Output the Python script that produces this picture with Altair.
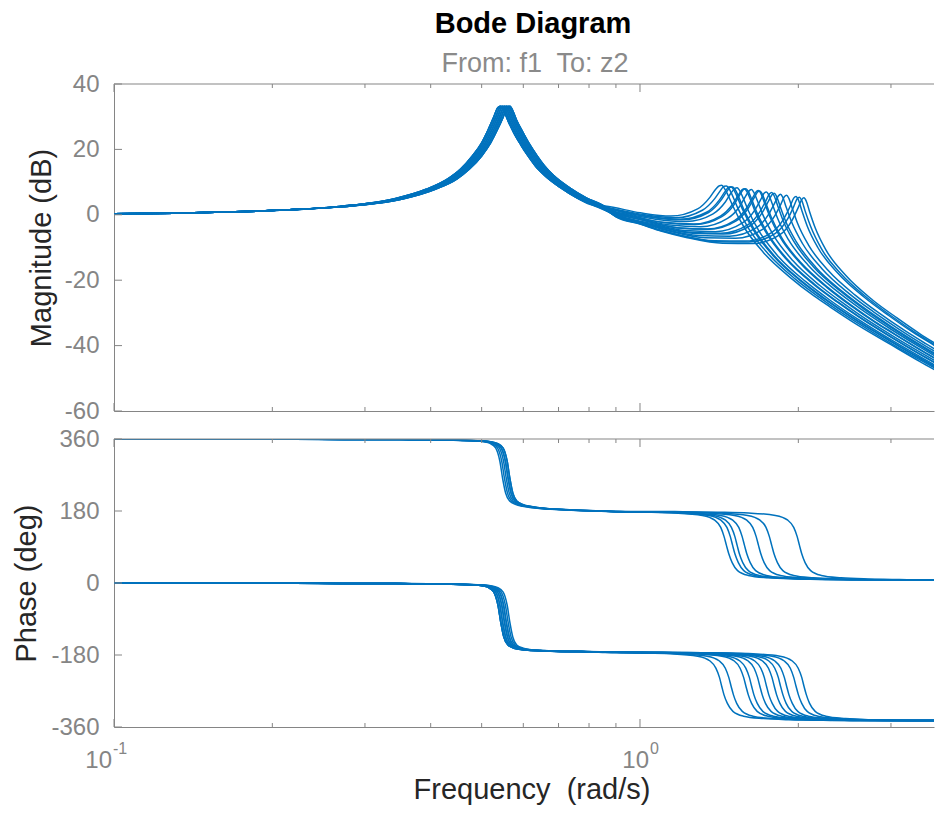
import altair as alt
import pandas as pd

BLUE = "#0072BD"
AXC = "#858585"
LBL = "#858585"
TTL = "#262626"
FONT = "Liberation Sans"

W = 820
H1 = 327
H2 = 288

TITLE = "Bode Diagram"
SUBTITLE = "From: f1\u00a0 To: z2"
XTITLE = "Frequency\u00a0 (rad/s)"
YTITLE_MAG = "Magnitude (dB)"
YTITLE_PH = "Phase (deg)"

x_major = [0.1, 1.0]
x_minor = [0.2, 0.3, 0.4, 0.5, 0.6, 0.7, 0.8, 0.9, 2.0, 3.0]
mag_ticks = [-60, -40, -20, 0, 20, 40]
ph_ticks = [-360, -180, 0, 180, 360]
x_label_pos = [0.1, 1.0]
x_label_base = ["10", "10"]
x_label_exp = ["-1", "0"]

# ---- shared low-frequency part (first mode), six slightly different first-mode frequencies
low_f_1 = [0.10, 0.13, 0.17, 0.22, 0.265, 0.304, 0.343, 0.392, 0.431, 0.456, 0.480, 0.500, 0.5145, 0.527, 0.537, 0.544, 0.551, 0.561, 0.576, 0.593, 0.6125, 0.632, 0.657, 0.706, 0.760, 0.813]
low_f_2 = [0.10, 0.13, 0.17, 0.22, 0.267, 0.306, 0.3458, 0.3952, 0.4347, 0.4594, 0.4841, 0.5039, 0.5187, 0.5315, 0.5414, 0.5483, 0.5553, 0.5651, 0.5809, 0.5977, 0.6175, 0.6373, 0.662, 0.7114, 0.7667, 0.820]
low_f_3 = [0.10, 0.13, 0.17, 0.22, 0.269, 0.3088, 0.3486, 0.3984, 0.4382, 0.4631, 0.488, 0.508, 0.5229, 0.5358, 0.5458, 0.5528, 0.5598, 0.5697, 0.5856, 0.6026, 0.6225, 0.6424, 0.6673, 0.7171, 0.7729, 0.8267]
low_f_4 = [0.10, 0.13, 0.17, 0.22, 0.271, 0.3112, 0.3514, 0.4016, 0.4418, 0.4669, 0.492, 0.512, 0.5271, 0.5402, 0.5502, 0.5572, 0.5642, 0.5743, 0.5904, 0.6074, 0.6275, 0.6476, 0.6727, 0.7229, 0.7791, 0.8333]
low_f_5 = [0.10, 0.13, 0.17, 0.22, 0.273, 0.3137, 0.3542, 0.4048, 0.4453, 0.4706, 0.4959, 0.5161, 0.5313, 0.5445, 0.5546, 0.5617, 0.5687, 0.5789, 0.5951, 0.6123, 0.6325, 0.6527, 0.678, 0.7286, 0.7853, 0.840]
low_f_6 = [0.10, 0.13, 0.17, 0.22, 0.275, 0.316, 0.357, 0.408, 0.449, 0.474, 0.500, 0.520, 0.5355, 0.549, 0.559, 0.566, 0.573, 0.583, 0.600, 0.617, 0.6375, 0.658, 0.683, 0.734, 0.792, 0.847]
low_mag = [0.3, 0.5, 0.9, 1.6, 2.5, 3.5, 5.0, 7.8, 11.0, 14.0, 18.0, 22.0, 26.0, 29.8, 32.8, 33.2, 31.8, 28.8, 25.0, 21.5, 18.0, 15.0, 12.2, 8.3, 5.1, 3.0]
low_ph_lower = [-0.3, -0.4, -0.6, -0.8, -1.0, -1.2, -1.5, -2.0, -2.8, -3.5, -4.8, -7.0, -11.0, -22.0, -55.0, -100.0, -135.0, -155.0, -163.0, -166.0, -168.0, -169.0, -170.0, -171.0, -171.5, -172.0]
low_ph_upper = [359.7, 359.6, 359.4, 359.2, 359.0, 358.8, 358.5, 358.0, 357.2, 356.5, 355.2, 353.0, 349.0, 338.0, 305.0, 260.0, 225.0, 205.0, 196.0, 192.0, 189.0, 187.0, 185.0, 183.0, 181.0, 180.0]

# ---- per-curve part (second mode)
c01_f = [0.858, 1.001, 1.144, 1.287, 1.359, 1.394, 1.416, 1.43, 1.444, 1.466, 1.502, 1.573, 1.716, 1.931, 2.145, 2.3, 2.6, 3.0, 3.4, 3.84]
c01_m = [2.7, 0.6, -0.4, 1.8, 5.4, 7.9, 8.9, 9.0, 8.3, 6.4, 2.6, -3.5, -11.5, -19.2, -24.9, -28.2, -33.8, -39.7, -44.8, -49.5]
c01_p = [-174, -175, -177, -183, -195, -213, -236, -258, -279, -301, -321, -333, -339, -342, -343, -343.5, -344, -344, -344, -344]

c02_f = [0.876, 1.022, 1.168, 1.314, 1.387, 1.424, 1.445, 1.46, 1.475, 1.497, 1.533, 1.606, 1.752, 1.971, 2.19, 2.3, 2.6, 3.0, 3.4, 3.84]
c02_m = [2.1, 0.0, -0.9, 1.4, 4.95, 7.55, 8.75, 8.8, 8.1, 6.1, 2.2, -4.0, -11.9, -19.6, -25.2, -27.6, -33.2, -39.3, -44.3, -49.0]
c02_p = [178, 177, 175, 169, 157, 139, 116, 94, 73, 51, 31, 19, 13, 10, 9, 8.5, 8, 8, 8, 8]

c03_f = [0.894, 1.043, 1.192, 1.341, 1.416, 1.453, 1.475, 1.49, 1.505, 1.527, 1.565, 1.639, 1.788, 2.012, 2.235, 2.6, 3.0, 3.4, 3.84]
c03_m = [1.6, -0.55, -1.35, 0.85, 4.55, 7.25, 8.5, 8.6, 7.85, 5.8, 1.8, -4.35, -12.35, -20.0, -25.6, -32.7, -38.8, -43.9, -48.6]
c03_p = [-174, -175, -177, -183, -195, -213, -236, -258, -279, -301, -321, -333, -339, -342, -343, -344, -344, -344, -344]

c04_f = [0.9, 1.05, 1.2, 1.35, 1.425, 1.463, 1.485, 1.5, 1.515, 1.538, 1.575, 1.65, 1.8, 2.025, 2.25, 2.6, 3.0, 3.4, 3.84]
c04_m = [1.4, -0.75, -1.55, 0.7, 4.4, 7.15, 8.45, 8.5, 7.8, 5.75, 1.65, -4.5, -12.5, -20.15, -25.7, -32.5, -38.6, -43.7, -48.5]
c04_p = [178, 177, 175, 169, 157, 139, 116, 94, 73, 51, 31, 19, 13, 10, 9, 8, 8, 8, 8]

c05_f = [0.918, 1.071, 1.224, 1.377, 1.454, 1.492, 1.515, 1.53, 1.545, 1.568, 1.607, 1.683, 1.836, 2.066, 2.295, 2.6, 3.0, 3.4, 3.84]
c05_m = [0.9, -1.35, -2.05, 0.3, 4.0, 6.8, 8.1, 8.3, 7.55, 5.4, 1.25, -4.9, -12.9, -20.45, -26.05, -32.0, -38.2, -43.3, -48.1]
c05_p = [178, 177, 175, 169, 157, 139, 116, 94, 73, 51, 31, 19, 13, 10, 9, 8, 8, 8, 8]

c06_f = [0.9, 0.948, 1.106, 1.264, 1.422, 1.501, 1.541, 1.564, 1.58, 1.596, 1.62, 1.659, 1.738, 1.896, 2.133, 2.37, 2.6, 3.0, 3.4, 3.84]
c06_m = [0.9, 0.05, -2.3, -2.85, -0.4, 3.3, 6.25, 7.7, 8.0, 7.15, 4.85, 0.6, -5.55, -13.55, -21.15, -26.65, -31.15, -37.4, -42.6, -47.4]
c06_p = [179, 178, 177, 175, 169, 157, 139, 116, 94, 73, 51, 31, 19, 13, 10, 9, 8, 8, 8, 8]

c07_f = [0.9, 0.954, 1.113, 1.272, 1.431, 1.511, 1.55, 1.574, 1.59, 1.606, 1.63, 1.67, 1.749, 1.908, 2.147, 2.385, 2.6, 3.0, 3.4, 3.84]
c07_m = [0.85, -0.1, -2.45, -3.0, -0.55, 3.2, 6.25, 7.75, 8.0, 7.2, 4.8, 0.5, -5.7, -13.7, -21.25, -26.8, -31.0, -37.3, -42.5, -47.3]
c07_p = [-173, -174, -175, -177, -183, -195, -213, -236, -258, -279, -301, -321, -333, -339, -342, -343, -344, -344, -344, -344]

c08_f = [0.9, 0.978, 1.141, 1.304, 1.467, 1.549, 1.589, 1.614, 1.63, 1.646, 1.671, 1.712, 1.793, 1.956, 2.201, 2.445, 2.6, 3.0, 3.4, 3.84]
c08_m = [0.65, -0.75, -3.15, -3.65, -1.1, 2.7, 5.8, 7.4, 7.7, 6.85, 4.4, 0.05, -6.2, -14.15, -21.7, -27.25, -30.3, -36.7, -41.9, -46.8]
c08_p = [-173, -174, -175, -177, -183, -195, -213, -236, -258, -279, -301, -321, -333, -339, -342, -343, -344, -344, -344, -344]

c09_f = [0.9, 1.008, 1.176, 1.344, 1.512, 1.596, 1.638, 1.663, 1.68, 1.697, 1.722, 1.764, 1.848, 2.016, 2.268, 2.52, 2.8, 3.0, 3.4, 3.84]
c09_m = [0.45, -1.5, -3.95, -4.35, -1.8, 2.15, 5.25, 7.05, 7.4, 6.55, 3.95, -0.45, -6.9, -14.75, -22.25, -27.85, -32.9, -35.9, -41.2, -46.1]
c09_p = [179, 178, 177, 175, 169, 157, 139, 116, 94, 73, 51, 31, 19, 13, 10, 9, 8, 8, 8, 8]

c10_f = [0.9, 1.014, 1.183, 1.352, 1.521, 1.606, 1.648, 1.673, 1.69, 1.707, 1.732, 1.775, 1.859, 2.028, 2.282, 2.535, 2.8, 3.0, 3.4, 3.84]
c10_m = [0.4, -1.7, -4.05, -4.45, -1.95, 2.0, 5.15, 6.95, 7.3, 6.4, 3.8, -0.6, -7.0, -14.85, -22.35, -27.95, -32.75, -35.75, -41.1, -46.0]
c10_p = [-173, -174, -175, -177, -183, -195, -213, -236, -258, -279, -301, -321, -333, -339, -342, -343, -344, -344, -344, -344]

c11_f = [0.9, 1.044, 1.218, 1.392, 1.566, 1.653, 1.697, 1.723, 1.74, 1.757, 1.784, 1.827, 1.914, 2.088, 2.349, 2.61, 3.0, 3.4, 3.84]
c11_m = [0.2, -2.55, -4.8, -5.15, -2.5, 1.45, 4.7, 6.65, 7.0, 6.1, 3.35, -1.15, -7.55, -15.4, -22.9, -28.45, -35.0, -40.4, -45.4]
c11_p = [-173, -174, -175, -177, -183, -195, -213, -236, -258, -279, -301, -321, -333, -339, -342, -343, -344, -344, -344]

c12_f = [0.9, 1.068, 1.246, 1.424, 1.602, 1.691, 1.736, 1.762, 1.78, 1.798, 1.825, 1.869, 1.958, 2.136, 2.403, 2.67, 3.0, 3.4, 3.84]
c12_m = [0.05, -3.2, -5.35, -5.65, -3.1, 1.0, 4.35, 6.35, 6.85, 5.9, 3.0, -1.6, -8.0, -15.9, -23.3, -28.9, -34.4, -39.9, -44.9]
c12_p = [179, 178, 177, 175, 169, 157, 139, 116, 94, 73, 51, 31, 19, 13, 10, 9, 8, 8, 8]

c13_f = [0.9, 1.08, 1.26, 1.44, 1.62, 1.71, 1.755, 1.782, 1.8, 1.818, 1.845, 1.89, 1.98, 2.16, 2.43, 2.7, 3.0, 3.4, 3.84]
c13_m = [0.0, -3.55, -5.65, -5.9, -3.35, 0.8, 4.15, 6.1, 6.6, 5.65, 2.75, -1.8, -8.1, -16.1, -23.55, -29.1, -34.1, -39.6, -44.6]
c13_p = [-173, -174, -175, -177, -183, -195, -213, -236, -258, -279, -301, -321, -333, -339, -342, -343, -344, -344, -344]

c14_f = [0.9, 1.0, 1.11, 1.295, 1.48, 1.665, 1.758, 1.804, 1.832, 1.85, 1.869, 1.896, 1.943, 2.035, 2.22, 2.498, 2.775, 3.1, 3.45, 3.84]
c14_m = [-0.15, -2.2, -4.35, -6.35, -6.55, -3.95, 0.25, 3.65, 5.75, 6.3, 5.3, 2.35, -2.3, -8.7, -16.55, -24.1, -29.6, -34.85, -39.6, -44.0]
c14_p = [-173, -173, -174, -175, -177, -183, -195, -213, -236, -258, -279, -301, -321, -333, -339, -342, -343, -344, -344, -344]

c15_f = [0.9, 1.0, 1.14, 1.33, 1.52, 1.71, 1.805, 1.853, 1.881, 1.9, 1.919, 1.948, 1.995, 2.09, 2.28, 2.565, 2.85, 3.2, 3.5, 3.84]
c15_m = [-0.3, -2.4, -5.05, -7.0, -7.15, -4.45, -0.25, 3.25, 5.5, 6.0, 5.0, 1.95, -2.75, -9.2, -17.05, -24.55, -30.1, -35.6, -39.5, -43.4]
c15_p = [-173, -173, -174, -175, -177, -183, -195, -213, -236, -258, -279, -301, -321, -333, -339, -342, -343, -344, -344, -344]

c16_f = [0.9, 1.0, 1.1, 1.188, 1.386, 1.584, 1.782, 1.881, 1.931, 1.96, 1.98, 2.0, 2.03, 2.079, 2.178, 2.376, 2.673, 2.97, 3.3, 3.6, 3.84]
c16_m = [-0.5, -2.65, -4.8, -6.15, -7.95, -8.05, -5.35, -0.95, 2.7, 5.1, 5.6, 4.6, 1.4, -3.4, -10.0, -17.8, -25.3, -30.8, -35.9, -39.65, -42.4]
c16_p = [-173, -173, -173, -174, -175, -177, -183, -195, -213, -236, -258, -279, -301, -321, -333, -339, -342, -343, -344, -344, -344]

c17_f = [0.9, 1.0, 1.1, 1.206, 1.407, 1.608, 1.809, 1.91, 1.96, 1.99, 2.01, 2.03, 2.06, 2.111, 2.211, 2.412, 2.714, 3.015, 3.3, 3.6, 3.84]
c17_m = [-0.55, -2.75, -4.9, -6.5, -8.25, -8.35, -5.65, -1.2, 2.5, 4.9, 5.4, 4.4, 1.2, -3.6, -10.3, -18.1, -25.6, -31.1, -35.5, -39.3, -42.1]
c17_p = [179, 179, 179, 178, 177, 175, 169, 157, 139, 116, 94, 73, 51, 31, 19, 13, 10, 9, 8, 8, 8]

c18_f = [0.9, 1.0, 1.1, 1.23, 1.435, 1.64, 1.845, 1.948, 1.999, 2.03, 2.05, 2.071, 2.101, 2.153, 2.255, 2.46, 2.768, 3.075, 3.4, 3.84]
c18_m = [-0.65, -2.85, -5.05, -7.0, -8.7, -8.8, -6.1, -1.55, 2.2, 4.65, 5.2, 4.15, 0.95, -3.95, -10.65, -18.5, -26.05, -31.45, -36.3, -41.6]
c18_p = [-173, -173, -173, -174, -175, -177, -183, -195, -213, -236, -258, -279, -301, -321, -333, -339, -342, -343, -344, -344]

curves = [
    (c01_f, c01_m, c01_p, "lower"), (c02_f, c02_m, c02_p, "upper"),
    (c03_f, c03_m, c03_p, "lower"), (c04_f, c04_m, c04_p, "upper"),
    (c05_f, c05_m, c05_p, "upper"), (c06_f, c06_m, c06_p, "upper"),
    (c07_f, c07_m, c07_p, "lower"), (c08_f, c08_m, c08_p, "lower"),
    (c09_f, c09_m, c09_p, "upper"), (c10_f, c10_m, c10_p, "lower"),
    (c11_f, c11_m, c11_p, "lower"), (c12_f, c12_m, c12_p, "upper"),
    (c13_f, c13_m, c13_p, "lower"), (c14_f, c14_m, c14_p, "lower"),
    (c15_f, c15_m, c15_p, "lower"), (c16_f, c16_m, c16_p, "lower"),
    (c17_f, c17_m, c17_p, "upper"), (c18_f, c18_m, c18_p, "lower"),
]
low_freqs = [low_f_1, low_f_2, low_f_3, low_f_4, low_f_5, low_f_6]

rows = []
for i, (f, m, p, br) in enumerate(curves):
    lf = low_freqs[i % len(low_freqs)]
    lp = low_ph_upper if br == "upper" else low_ph_lower
    ff = list(lf) + list(f)
    mm = list(low_mag) + list(m)
    pp = list(lp) + list(p)
    for k, (a, b, c) in enumerate(zip(ff, mm, pp)):
        rows.append({"curve": "c%02d" % (i + 1), "k": k, "freq": a, "mag": b, "phase": c})
df = pd.DataFrame(rows)

# 526 px per decade, as in the reference
xscale = alt.Scale(type="log", domain=[0.1, 3.622], nice=False)
yscale_m = alt.Scale(domain=[-60, 40], nice=False, zero=False)
yscale_p = alt.Scale(domain=[-360, 360], nice=False, zero=False)


def x_enc():
    return alt.X("freq:Q", scale=xscale,
                 axis=alt.Axis(labels=False, ticks=False, title=None, grid=False,
                               domainColor=AXC, domainWidth=1))


def y_axis(values, title, extent):
    return alt.Axis(values=values, ticks=False, tickSize=0, labelPadding=15,
                    labelFontSize=24, labelColor=LBL, labelFont=FONT,
                    labelExpr="datum.value + ''", labelFlush=False, labelOverlap=False,
                    grid=False, domainColor=AXC, domainWidth=1,
                    title=title, titleFont=FONT, titleFontSize=29,
                    titleFontWeight="normal", titleColor=TTL, titlePadding=6,
                    minExtent=extent, maxExtent=extent)


def y_mag():
    return alt.Y("mag:Q", scale=yscale_m, axis=y_axis(mag_ticks, YTITLE_MAG, 52))


def y_ph():
    return alt.Y("phase:Q", scale=yscale_p, axis=y_axis(ph_ticks, YTITLE_PH, 67))


def frame_layers(H, yfield, yenc, yticks):
    one = pd.DataFrame({"a": [0]})
    xmaj = pd.DataFrame({"freq": x_major})
    xmin = pd.DataFrame({"freq": x_minor})
    yt = pd.DataFrame({yfield: yticks})
    return [
        alt.Chart(one).mark_rule(color=AXC, strokeWidth=1).encode(
            x=alt.value(0), x2=alt.value(W), y=alt.value(0)),
        alt.Chart(xmaj).mark_rule(color=AXC, strokeWidth=1).encode(
            x=x_enc(), y=alt.value(0), y2=alt.value(8)),
        alt.Chart(xmaj).mark_rule(color=AXC, strokeWidth=1).encode(
            x=x_enc(), y=alt.value(H), y2=alt.value(H - 8)),
        alt.Chart(xmin).mark_rule(color=AXC, strokeWidth=1).encode(
            x=x_enc(), y=alt.value(0), y2=alt.value(4)),
        alt.Chart(xmin).mark_rule(color=AXC, strokeWidth=1).encode(
            x=x_enc(), y=alt.value(H), y2=alt.value(H - 4)),
        alt.Chart(yt).mark_rule(color=AXC, strokeWidth=1).encode(
            y=yenc(), x=alt.value(0), x2=alt.value(8)),
    ]


mag_line = alt.Chart(df).mark_line(color=BLUE, strokeWidth=1.5, clip=True,
                                   interpolate="monotone").encode(
    x=x_enc(), y=y_mag(), detail="curve:N", order="k:Q")

ph_line = alt.Chart(df).mark_line(color=BLUE, strokeWidth=1.5, clip=True,
                                  interpolate="monotone").encode(
    x=x_enc(), y=y_ph(), detail="curve:N", order="k:Q")

title_df = pd.DataFrame({"t": [TITLE]})
sub_df = pd.DataFrame({"t": [SUBTITLE]})
title_mark = alt.Chart(title_df).mark_text(
    font=FONT, fontSize=29, fontWeight="bold", color="#000000",
    align="center", baseline="alphabetic").encode(
    text="t:N", x=alt.value(419), y=alt.value(-51))
sub_mark = alt.Chart(sub_df).mark_text(
    font=FONT, fontSize=27, color="#8a8a8a",
    align="center", baseline="alphabetic").encode(
    text="t:N", x=alt.value(421), y=alt.value(-12))

xl_df_a = pd.DataFrame({"freq": x_label_pos[:1], "base": x_label_base[:1], "exp": x_label_exp[:1]})
xl_df_b = pd.DataFrame({"freq": x_label_pos[1:], "base": x_label_base[1:], "exp": x_label_exp[1:]})


def x_label_layers(d, dx):
    return [
        alt.Chart(d).mark_text(font=FONT, fontSize=24, color=LBL, align="right",
                               baseline="alphabetic", dx=dx).encode(
            x=x_enc(), y=alt.value(H2 + 41), text="base:N"),
        alt.Chart(d).mark_text(font=FONT, fontSize=16, color=LBL, align="left",
                               baseline="alphabetic", dx=dx + 1).encode(
            x=x_enc(), y=alt.value(H2 + 27), text="exp:N"),
    ]


xt_df = pd.DataFrame({"t": [XTITLE]})
xtitle_mark = alt.Chart(xt_df).mark_text(
    font=FONT, fontSize=29, color=TTL, align="center", baseline="alphabetic").encode(
    text="t:N", x=alt.value(418), y=alt.value(H2 + 72))

top = alt.layer(mag_line, *frame_layers(H1, "mag", y_mag, mag_ticks), title_mark, sub_mark).properties(
    width=W, height=H1)
bottom = alt.layer(ph_line, *frame_layers(H2, "phase", y_ph, ph_ticks),
                   *x_label_layers(xl_df_a, -2), *x_label_layers(xl_df_b, 9),
                   xtitle_mark).properties(width=W, height=H2)

chart = alt.vconcat(top, bottom, spacing=28, bounds="flush").properties(
    padding={"left": 4, "right": 0, "top": 2, "bottom": 0}
).configure(font=FONT).configure_view(stroke=None)

chart.save("out.html", embed_options={"renderer": "svg", "actions": False})
